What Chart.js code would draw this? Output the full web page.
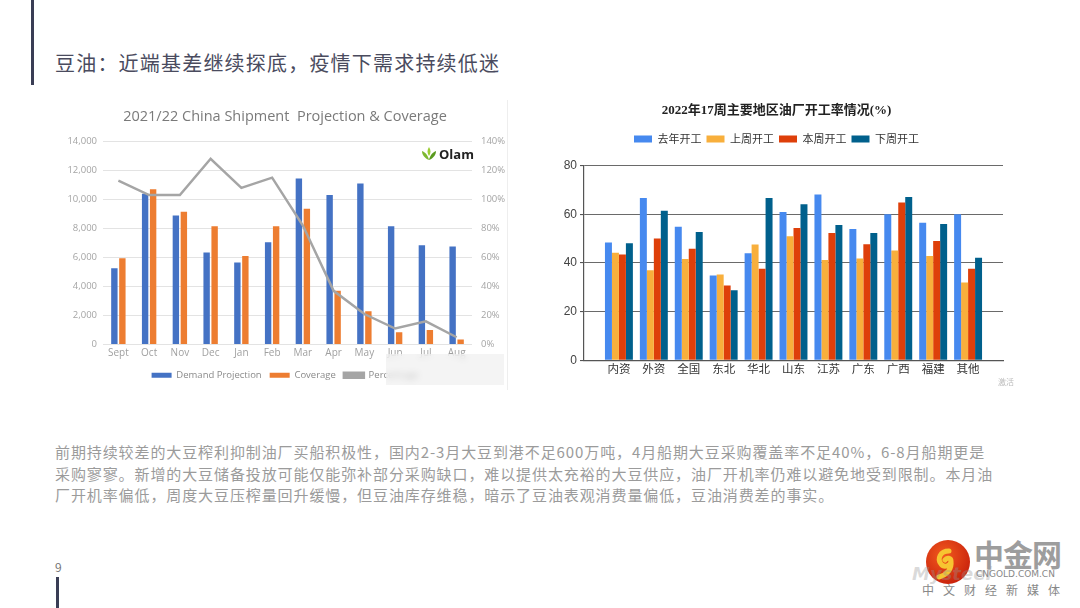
<!DOCTYPE html>
<html>
<head>
<meta charset="utf-8">
<script src="https://cdn.jsdelivr.net/npm/chart.js@4.4.1/dist/chart.umd.min.js"></script>
<style>
  html, body { margin: 0; padding: 0; background: #fff; }
  body { width: 1080px; height: 608px; position: relative; overflow: hidden;
         font-family: "Noto Sans CJK SC", "Noto Sans", sans-serif; }
  .abs { position: absolute; }
  #barTop { left: 31px; top: 0; width: 3px; height: 85px; background: #3a3d55; }
  #barBottom { left: 56px; top: 577px; width: 3px; height: 31px; background: #3a3d55; }
  #pageNo { left: 55px; top: 558px; font-size: 12px; color: #777; }
  #title { left: 55px; top: 49px; font-size: 20px; line-height: 28px; color: #4a4b5e; letter-spacing: 1.2px; }
  #para { left: 55px; top: 441px; font-size: 15px; line-height: 21.5px; color: #9b9b9b; letter-spacing: 0.9px; white-space: nowrap; }
  #leftWrap { left: 60px; top: 100px; width: 450px; height: 290px; }
  #rightWrap { left: 550px; top: 95px; width: 470px; height: 295px; }
  #edge { left: 507px; top: 100px; width: 1px; height: 290px; background: #eeeeee; }
  #olam { left: 421px; top: 145px; font-family: "Open Sans", sans-serif; font-weight: 700; font-size: 13px; color: #222; display: flex; align-items: center; gap: 2px; }
  #blur { left: 386px; top: 354px; width: 118px; height: 31px; backdrop-filter: blur(3px); background: rgba(236,236,236,0.6); }
  #jihuo { left: 998px; top: 376px; font-size: 8px; color: #bbb; }
  #logoTxt { left: 974px; top: 531px; font-size: 30px; font-weight: 700; color: #9d9d9d; letter-spacing: -1px; }
  #logoUrl { left: 976px; top: 569px; font-size: 9px; color: #888; font-family: "DejaVu Sans", sans-serif; }
  #logoSub { left: 922px; top: 581px; font-size: 12px; color: #888; letter-spacing: 9px; }
  #mysteel { left: 912px; top: 563px; font-size: 18px; font-weight: 700; font-style: italic; color: rgba(150,150,150,0.35); font-family: "DejaVu Sans", sans-serif; }
</style>
</head>
<body>
<div id="barTop" class="abs"></div>
<div id="title" class="abs">豆油：近端基差继续探底，疫情下需求持续低迷</div>

<div id="leftWrap" class="abs"><canvas id="shipmentChart" width="450" height="290"></canvas></div>
<div id="edge" class="abs"></div>
<div id="olam" class="abs">
  <svg width="16" height="14" viewBox="0 0 16 14">
    <path d="M8 13 C3 11 1 7 1 4 C4 5 7 8 8 13 Z" fill="#7cb82f"/>
    <path d="M8 13 C13 11 15 7 15 4 C12 5 9 8 8 13 Z" fill="#5a9a1e"/>
    <path d="M8 9 C6 6 6 3 8 0 C10 3 10 6 8 9 Z" fill="#9acd32"/>
  </svg><span>Olam</span>
</div>
<div id="blur" class="abs"></div>

<div id="rightWrap" class="abs"><canvas id="utilChart" width="470" height="295"></canvas></div>
<div id="jihuo" class="abs">激活</div>

<div id="para" class="abs">前期持续较差的大豆榨利抑制油厂买船积极性，国内2-3月大豆到港不足600万吨，4月船期大豆采购覆盖率不足40%，6-8月船期更是<br>采购寥寥。新增的大豆储备投放可能仅能弥补部分采购缺口，难以提供太充裕的大豆供应，油厂开机率仍难以避免地受到限制。本月油<br>厂开机率偏低，周度大豆压榨量回升缓慢，但豆油库存维稳，暗示了豆油表观消费量偏低，豆油消费差的事实。</div>

<div id="pageNo" class="abs">9</div>
<div id="barBottom" class="abs"></div>

<svg class="abs" style="left:925px;top:539px" width="46" height="46" viewBox="0 0 46 46">
  <defs><radialGradient id="rg" cx="40%" cy="35%" r="70%"><stop offset="0" stop-color="#f25a1e"/><stop offset="1" stop-color="#c8200c"/></radialGradient></defs>
  <circle cx="23" cy="23" r="22" fill="url(#rg)"/>
  <path d="M24 12 C15 12 12 20 16 25 C19 29 26 27 26 22 C26 19 22 18 20 21 M26 22 C27 30 22 36 14 38" stroke="#f7c531" stroke-width="5" fill="none" stroke-linecap="round"/>
</svg>
<div id="mysteel" class="abs">Mysteel</div>
<div id="logoTxt" class="abs">中金网</div>
<div id="logoUrl" class="abs">CNGOLD.COM.CN</div>
<div id="logoSub" class="abs">中文财经新媒体</div>

<script>
// left chart: 2021/22 China Shipment Projection & Coverage
const months = ['Sept', 'Oct', 'Nov', 'Dec', 'Jan', 'Feb', 'Mar', 'Apr', 'May', 'Jun', 'Jul', 'Aug'];
const demandProjection = [5250, 10400, 8900, 6350, 5650, 7050, 11450, 10300, 11100, 8150, 6850, 6750];
const coverage = [5950, 10700, 9150, 8150, 6100, 8150, 9350, 3700, 2300, 850, 1000, 350];
const percentage = [113, 103, 103, 128, 108, 115, 82, 37, 21, 11, 16, 5];

// right chart: 2022年17周主要地区油厂开工率 (%)
const regions = ['内资', '外资', '全国', '东北', '华北', '山东', '江苏', '广东', '广西', '福建', '其他'];
const lastYear = [48.4, 66.7, 54.9, 34.8, 44.0, 60.9, 68.1, 53.9, 60.0, 56.5, 60.0];
const lastWeek = [44.2, 37.0, 41.6, 35.2, 47.6, 51.0, 41.2, 41.8, 45.1, 42.8, 31.9];
const thisWeek = [43.5, 50.0, 45.8, 30.7, 37.6, 54.3, 52.3, 47.7, 64.8, 49.0, 37.6];
const nextWeek = [48.1, 61.4, 52.7, 28.8, 66.7, 64.1, 55.6, 52.3, 67.1, 56.0, 42.1];

const leftFont = "'Open Sans', 'Noto Sans', sans-serif";
const cjkFont = "'Noto Sans CJK SC', sans-serif";

// push the plot area down a bit below the legend
function legendGap(px) {
  return {
    id: 'legendGap',
    afterInit(chart) {
      const fit = chart.legend.fit;
      chart.legend.fit = function () {
        fit.call(this);
        this.height += px;
      };
    }
  };
}

new Chart(document.getElementById('shipmentChart').getContext('2d'), {
  type: 'bar',
  data: {
    labels: months,
    datasets: [
      {
        label: 'Demand Projection',
        data: demandProjection,
        backgroundColor: '#4472C4',
        yAxisID: 'y',
        order: 1,
        barPercentage: 0.8,
        categoryPercentage: 0.52
      },
      {
        label: 'Coverage',
        data: coverage,
        backgroundColor: '#ED7D31',
        yAxisID: 'y',
        order: 1,
        barPercentage: 0.8,
        categoryPercentage: 0.52
      },
      {
        type: 'line',
        label: 'Percentage',
        data: percentage,
        borderColor: '#A5A5A5',
        backgroundColor: '#A5A5A5',
        borderWidth: 2.5,
        pointRadius: 0,
        tension: 0,
        yAxisID: 'y1',
        order: 0
      }
    ]
  },
  options: {
    responsive: false,
    animation: false,
    layout: { padding: { left: 0, right: 0, top: 2, bottom: 0 } },
    plugins: {
      title: {
        display: true,
        text: '2021/22 China Shipment  Projection & Coverage',
        color: '#7a7a7a',
        font: { size: 14.5, family: leftFont, weight: 'normal' },
        padding: { top: 6, bottom: 16 }
      },
      legend: {
        position: 'bottom',
        labels: {
          boxWidth: 20,
          boxHeight: 5,
          padding: 8,
          color: '#8a8a8a',
          font: { size: 9.5, family: leftFont },
          sort: (a, b) => a.datasetIndex - b.datasetIndex
        }
      },
      tooltip: { enabled: false }
    },
    scales: {
      x: {
        grid: { display: false, drawTicks: false },
        border: { display: false },
        ticks: { color: '#a0a0a0', font: { size: 10, family: leftFont }, padding: 3 }
      },
      y: {
        position: 'left',
        min: 0,
        max: 14000,
        ticks: {
          stepSize: 2000,
          color: '#a5a5a5',
          font: { size: 9.5, family: leftFont },
          padding: 6,
          callback: v => v.toLocaleString('en-US')
        },
        grid: { color: '#e3e3e3', drawTicks: false },
        border: { display: false },
        afterFit: s => { s.width = 43; }
      },
      y1: {
        position: 'right',
        min: 0,
        max: 140,
        ticks: {
          stepSize: 20,
          color: '#a5a5a5',
          font: { size: 9.5, family: leftFont },
          padding: 9,
          callback: v => v + '%'
        },
        grid: { display: false, drawTicks: false },
        border: { display: false },
        afterFit: s => { s.width = 38; }
      }
    }
  }
});

// pad one empty slot on each side, the source chart leaves that margin
const regionSlots = [''].concat(regions, ['']);
const padded = arr => [null].concat(arr, [null]);

new Chart(document.getElementById('utilChart').getContext('2d'), {
  type: 'bar',
  data: {
    labels: regionSlots,
    datasets: [
      { label: '去年开工', data: padded(lastYear), backgroundColor: '#4689EF' },
      { label: '上周开工', data: padded(lastWeek), backgroundColor: '#F8AF3C' },
      { label: '本周开工', data: padded(thisWeek), backgroundColor: '#DE3F0A' },
      { label: '下周开工', data: padded(nextWeek), backgroundColor: '#00608C' }
    ]
  },
  plugins: [legendGap(11)],
  options: {
    responsive: false,
    animation: false,
    datasets: { bar: { barPercentage: 1.0, categoryPercentage: 0.8 } },
    layout: { padding: { left: 0, right: 17, top: 2, bottom: 12 } },
    plugins: {
      title: {
        display: true,
        text: '2022年17周主要地区油厂开工率情况(%)',
        color: '#222',
        font: { size: 13, family: "'Liberation Serif', 'Noto Sans CJK SC', serif", weight: 'bold' },
        padding: { top: 6, bottom: 10 }
      },
      legend: {
        position: 'top',
        labels: {
          boxWidth: 18,
          boxHeight: 7,
          padding: 5,
          color: '#333',
          font: { size: 11, family: cjkFont }
        }
      },
      tooltip: { enabled: false }
    },
    scales: {
      x: {
        offset: false,
        grid: { display: false, drawTicks: false },
        border: { display: true, color: '#555', width: 1.2 },
        ticks: {
          autoSkip: false,
          maxRotation: 0,
          color: '#333',
          font: { size: 11.5, family: cjkFont },
          padding: 2
        }
      },
      y: {
        min: 0,
        max: 80,
        ticks: { stepSize: 20, color: '#444', font: { size: 12, family: "'Liberation Sans', sans-serif" }, padding: 3 },
        grid: { color: '#6a6a6a', lineWidth: 1.1, tickLength: 4, tickColor: '#555' },
        border: { display: true, color: '#555', width: 1.2 },
        afterFit: s => { s.width = 34; }
      }
    }
  }
});
</script>
</body>
</html>
